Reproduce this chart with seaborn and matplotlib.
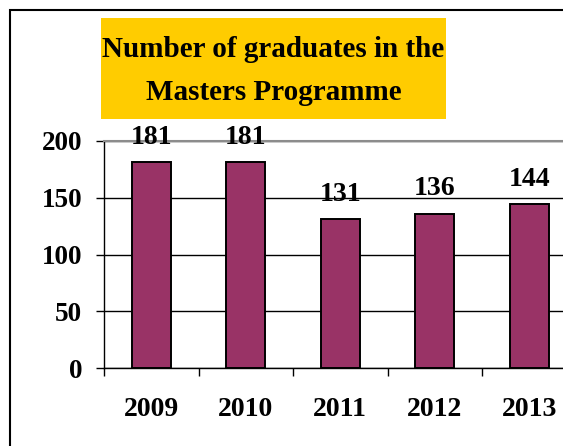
import numpy as np
import pandas as pd
import matplotlib.pyplot as plt
from matplotlib.patches import Rectangle
import seaborn as sns

# Datos
years = ["2009", "2010", "2011", "2012", "2013"]
graduates = [181, 181, 131, 136, 144]
title_lines = ["Number of graduates in the", "Masters Programme"]

df = pd.DataFrame({"Year": years, "Graduates": graduates})

sns.set_style("white")
plt.rcParams["font.family"] = ["Liberation Serif", "DejaVu Serif"]
plt.rcParams["font.weight"] = "bold"
plt.rcParams["text.color"] = "black"
plt.rcParams["xtick.labelcolor"] = "black"
plt.rcParams["ytick.labelcolor"] = "black"

W, H = 563, 446
fig = plt.figure(figsize=(W / 100, H / 100), dpi=100)

# Area de graficado (se sale por la derecha, como en el original)
ax = fig.add_axes([104 / W, 1 - 368.3 / H, 472.5 / W, (368.3 - 140.7) / H])
ax.set_axisbelow(True)

sns.barplot(data=df, x="Year", y="Graduates", color="#993366", saturation=1,
            edgecolor="black", linewidth=1.4, width=0.41, ax=ax)

ax.set_xlim(-0.5, 4.5)
ax.set_ylim(0, 200)
ax.set_yticks([0, 50, 100, 150, 200])
ax.yaxis.grid(True, color="black", linewidth=1)
ax.set_xlabel("")
ax.set_ylabel("")

# Etiquetas de valores
for i, v in enumerate(graduates):
    ax.annotate(str(v), (i, v), xytext=(0, 13.3), textcoords="offset points",
                ha="center", va="baseline", fontsize=20, fontweight="bold",
                color="black")

# Ejes y marcas
for side in ["top", "right"]:
    ax.spines[side].set_color("#8c8c8c")
    ax.spines[side].set_linewidth(1.5)
for side in ["left", "bottom"]:
    ax.spines[side].set_color("black")
    ax.spines[side].set_linewidth(1.0)

ax.set_xticks(np.arange(-0.5, 5, 1), minor=True)
ax.tick_params(axis="x", which="major", length=0, pad=20.5, labelsize=20)
ax.tick_params(axis="x", which="minor", length=5.8, width=1, direction="out",
               color="black", bottom=True)
ax.tick_params(axis="y", length=5.8, width=1, direction="out", color="black",
               pad=10, labelsize=19.5, left=True)
for lbl in ax.get_xticklabels() + ax.get_yticklabels():
    lbl.set_fontweight("bold")

# Titulo con recuadro amarillo
fig.patches.append(Rectangle((101 / W, 1 - 119 / H), 345 / W, 101 / H,
                             transform=fig.transFigure, facecolor="#FFCC00",
                             edgecolor="none", zorder=0))
fig.text(273.5 / W, 1 - 57 / H, title_lines[0], ha="center", va="baseline",
         fontsize=21, fontweight="bold")
fig.text(273.5 / W, 1 - 100 / H, title_lines[1], ha="center", va="baseline",
         fontsize=21, fontweight="bold")

# Borde exterior del grafico
fig.patches.append(Rectangle((10 / W, -0.2), 1.5, 1.2 - 10 / H,
                             transform=fig.transFigure, facecolor="none",
                             edgecolor="black", linewidth=1.5, clip_on=False))

fig.savefig("out.png", dpi=100)
plt.close(fig)
